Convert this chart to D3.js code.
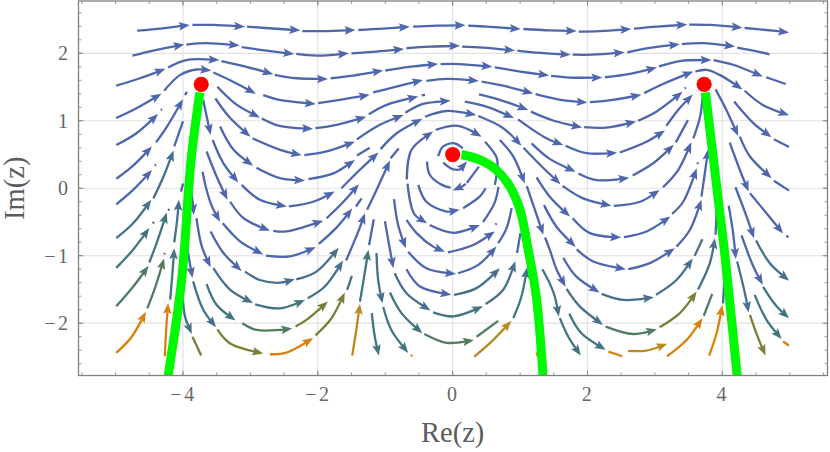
<!DOCTYPE html>
<html>
<head>
<meta charset="utf-8">
<script src="https://cdn.jsdelivr.net/npm/d3@7"></script>
<style>
  html, body { margin: 0; padding: 0; background: #fff; }
  text { font-family: "Liberation Serif", serif; fill: #666; }
</style>
</head>
<body>
<svg id="chart" width="830" height="452"></svg>
<script>
// stream pieces as [Re, Im], last point of an arrow piece is its tip
var blueArrows = [
  // top row
  [[-4.68,2.335],[-4.3,2.37],[-3.9,2.42]], [[-3.86,2.42],[-3.55,2.42],[-3.08,2.395]], [[-3.05,2.395],[-2.56,2.36],[-2.26,2.34]],
  [[-2.23,2.33],[-1.92,2.33],[-1.44,2.345]], [[-1.4,2.345],[-1.03,2.365],[-0.635,2.395]], [[-0.585,2.395],[-0.24,2.41],[0.19,2.415]],
  [[0.23,2.41],[0.5,2.395],[1.01,2.36]], [[1.05,2.36],[1.44,2.34],[1.84,2.33]], [[1.87,2.32],[2.18,2.33],[2.65,2.36]],
  [[2.69,2.365],[3.03,2.395],[3.48,2.425]], [[3.51,2.425],[3.82,2.42],[4.3,2.38]], [[4.33,2.375],[4.65,2.345],[4.99,2.31]],
  // second row
  [[-4.75,1.965],[-4.39,2.05],[-3.98,2.13]], [[-3.95,2.13],[-3.65,2.15],[-3.16,2.115]], [[-3.13,2.09],[-2.76,2.04],[-2.35,1.99]],
  [[-2.32,1.99],[-2.02,1.965],[-1.54,2.0]], [[-1.5,2.0],[-1.13,2.025],[-0.72,2.065]], [[-0.685,2.075],[-0.34,2.1],[0.11,2.11]],
  [[0.14,2.1],[0.45,2.085],[0.925,2.04]], [[0.96,2.04],[1.245,2.01],[1.75,1.98]], [[1.78,1.98],[2.08,1.98],[2.55,2.015]],
  [[2.59,2.015],[2.92,2.08],[3.37,2.135]], [[3.4,2.135],[3.72,2.15],[4.19,2.1]],
  // third row
  [[-4.99,1.52],[-4.64,1.63],[-4.26,1.77]], [[-4.22,1.79],[-3.95,1.9],[-3.46,1.9]], [[-3.43,1.885],[-3.06,1.8],[-2.66,1.69]],
  [[-2.64,1.68],[-2.32,1.63],[-1.85,1.62]], [[-1.81,1.63],[-1.48,1.67],[-1.03,1.745]], [[-1.0,1.745],[-0.64,1.8],[-0.215,1.84]],
  [[-0.18,1.84],[0.1,1.84],[0.59,1.8]], [[0.625,1.79],[1.0,1.73],[1.43,1.67]], [[1.46,1.665],[1.74,1.64],[2.22,1.64]],
  [[2.26,1.645],[2.63,1.695],[3.03,1.79]], [[3.06,1.805],[3.37,1.885],[3.84,1.9]], [[3.87,1.9],[4.16,1.83],[4.6,1.655]],
  // row over the saddles
  [[-4.99,1.04],[-4.69,1.185],[-4.32,1.4]], [[-4.28,1.445],[-4.04,1.68],[-3.8,1.76],[-3.58,1.745]], [[-3.55,1.715],[-3.3,1.6],[-2.92,1.4]],
  [[-2.81,1.38],[-2.57,1.31],[-2.03,1.25]], [[-1.995,1.26],[-1.675,1.31],[-1.23,1.385]], [[-1.18,1.42],[-0.88,1.495],[-0.44,1.605]],
  [[-0.39,1.59],[-0.09,1.62],[0.39,1.59]], [[0.43,1.58],[0.75,1.52],[1.195,1.405]], [[1.23,1.395],[1.6,1.31],[2.0,1.27]],
  [[2.035,1.275],[2.38,1.31],[2.8,1.385]], [[2.84,1.41],[3.12,1.545],[3.57,1.73]], [[3.6,1.73],[3.77,1.755],[3.96,1.68],[4.3,1.465]],
  [[4.33,1.445],[4.6,1.235],[4.99,1.08]],
  // next rows
  [[-4.99,0.64],[-4.69,0.815],[-4.37,1.1]], [[-3.49,1.505],[-3.2,1.235],[-2.86,1.05]], [[-2.83,1.035],[-2.57,0.925],[-2.07,0.88]],
  [[-2.035,0.89],[-1.72,0.94],[-1.28,1.06]], [[-1.245,1.095],[-0.98,1.235],[-0.51,1.36]], [[0.39,1.39],[0.7,1.31],[1.12,1.16]],
  [[1.16,1.135],[1.5,1.0],[1.92,0.9]], [[1.95,0.905],[2.28,0.9],[2.72,0.99]], [[2.75,1.0],[3.02,1.135],[3.41,1.43]],
  [[-3.52,1.33],[-3.3,1.04],[-3.0,0.765]], [[-2.97,0.74],[-2.56,0.57],[-2.24,0.49]], [[-2.2,0.49],[-1.87,0.545],[-1.45,0.69]],
  [[-1.42,0.725],[-1.08,0.94],[-0.73,1.085]], [[-0.7,1.12],[-0.44,1.25],[-0.03,1.295]], [[0.18,1.285],[0.5,1.21],[0.91,1.04]],
  [[0.97,1.02],[1.39,0.74],[1.64,0.64]], [[1.675,0.63],[1.985,0.52],[2.44,0.525]], [[2.48,0.53],[2.875,0.69],[3.15,0.855]],
  [[3.17,0.925],[3.345,1.16],[3.56,1.39]],
  [[-4.99,0.14],[-4.74,0.335],[-4.46,0.62]], [[-4.4,0.68],[-4.24,0.91],[-4.0,1.32]],
  [[-4.99,-0.24],[-4.74,-0.025],[-4.46,0.27]],
  [[-3.45,0.915],[-3.25,0.57],[-2.96,0.335]], [[-2.91,0.305],[-2.56,0.15],[-2.19,0.115]], [[-2.14,0.135],[-1.77,0.22],[-1.45,0.42]],
  [[-3.7,1.31],[-3.65,1.07],[-3.59,0.79]], [[-3.56,0.715],[-3.4,0.37],[-3.18,0.085]], [[-3.13,0.05],[-2.86,-0.17],[-2.46,-0.27]],
  [[-2.43,-0.27],[-2.07,-0.2],[-1.75,-0.05]], [[-1.65,0],[-1.38,0.27],[-1.1,0.53]], [[-1.07,0.58],[-0.83,0.815],[-0.45,1.03]],
  [[-0.41,1.06],[-0.09,1.145],[0.35,1.085]], [[0.38,1.07],[0.75,0.89],[1.02,0.63]], [[1.05,0.6],[1.345,0.3],[1.6,0.06]],
  [[1.63,0.035],[1.935,-0.15],[2.355,-0.26]], [[2.39,-0.26],[2.78,-0.2],[3.07,-0.025]], [[3.12,0.015],[3.345,0.27],[3.54,0.68]],
  [[-3.65,0.545],[-3.5,0.17],[-3.34,-0.17]], [[-3.3,-0.2],[-3.1,-0.445],[-2.71,-0.63]], [[-2.66,-0.63],[-2.465,-0.64],[-1.92,-0.48]],
  [[-1.87,-0.445],[-1.62,-0.2],[-1.39,0.06]], [[-1.27,-0.32],[-1.13,-0.025],[-0.93,0.41]],
  [[-3.71,0.245],[-3.65,-0.025],[-3.57,-0.27],[-3.45,-0.495]], [[-3.41,-0.52],[-3.15,-0.79],[-2.81,-0.98]], [[-2.77,-1.0],[-2.415,-1.01],[-2.03,-0.875]],
  [[-1.985,-0.825],[-1.72,-0.58],[-1.49,-0.3]],
  [[-3.88,-0.05],[-3.86,-0.17],[-3.84,-0.395]], [[-3.8,-0.445],[-3.72,-0.865],[-3.59,-1.17]], [[-3.59,-0.64],[-3.4,-0.96],[-3.13,-1.225]],
  [[-3.94,-0.865],[-3.9,-1.1],[-3.86,-1.33]],
  [[-1.005,-0.49],[-0.955,-0.77],[-0.88,-1.185]], [[-1.58,-1.07],[-1.38,-0.59],[-1.3,-0.37]],
  // centre swirl
  [[-0.14,0.38],[0.01,0.28],[0.155,0.3],[0.215,0.395]], [[0.195,0.065],[0.1,0],[0,-0.035]],
  [[-0.68,0.13],[-0.61,0.57],[-0.29,0.84]], [[-0.25,0.865],[0.08,0.925],[0.43,0.765]],
  [[-0.51,0.05],[-0.39,-0.2],[-0.09,-0.345],[0.105,-0.32]], [[-0.67,0.07],[-0.625,-0.22],[-0.56,-0.395],[-0.38,-0.52]],
  [[-0.34,-0.545],[0.01,-0.66],[0.405,-0.545]], [[-0.685,-0.47],[-0.535,-0.665],[-0.29,-0.865],[-0.115,-0.94]],
  [[-0.07,-0.95],[0.305,-0.84],[0.625,-0.64]], [[-0.87,-0.16],[-0.81,-0.54],[-0.695,-0.89]], [[-0.66,-0.94],[-0.39,-1.185],[0.05,-1.27]],
  [[0.08,-1.26],[0.38,-1.135],[0.65,-0.865]], [[-0.685,-1.2],[-0.485,-1.455],[-0.02,-1.58]],
  // right of the centre
  [[0.7,0.715],[0.9,0.47],[1.07,0.07]], [[1.1,0.03],[1.22,-0.32],[1.345,-0.69]], [[1.37,-0.73],[1.44,-0.91],[1.54,-1.2],[1.675,-1.46]],
  [[1.17,0.665],[1.44,0.435],[1.825,0.245]], [[1.865,0.22],[2.135,0.12],[2.62,0.155]], [[2.67,0.19],[2.975,0.37],[3.28,0.645]],
  [[1.245,0.16],[1.44,-0.125],[1.74,-0.42]], [[1.78,-0.445],[2.035,-0.665],[2.5,-0.73]], [[2.54,-0.725],[2.875,-0.64],[3.23,-0.42]],
  [[3.255,-0.38],[3.42,-0.2],[3.62,0.295]], [[1.355,-0.25],[1.54,-0.57],[1.825,-0.87]], [[1.84,-0.905],[2.085,-1.085],[2.57,-1.2]],
  [[2.605,-1.2],[2.925,-1.11],[3.295,-0.89]], [[3.32,-0.865],[3.52,-0.615],[3.69,-0.17]], [[3.69,-0.125],[3.74,0.22],[3.79,0.58]],
  [[3.9,1.465],[4.06,1.16],[4.235,0.775]], [[4.26,0.765],[4.41,0.47],[4.73,0.15]], [[4.175,1.285],[4.46,0.965],[4.73,0.755]],
  [[4.11,0.675],[4.26,0.27],[4.39,-0.05]], [[4.41,-0.075],[4.655,-0.37],[4.9,-0.67]], [[4.195,0.015],[4.36,-0.42],[4.47,-0.74]],
  [[4.095,-0.26],[4.16,-0.665],[4.2,-1.05]], [[4.285,-0.7],[4.46,-1.16],[4.6,-1.43]], [[1.64,-1.03],[1.835,-1.31],[2.18,-1.545]]
];
var blueTails = [
  [[4.22,2.085],[4.46,2.04],[4.7,1.985]], [[4.65,1.645],[4.94,1.545]], [[-4.33,1.16],[-4.31,1.17]], [[-0.46,1.375],[-0.41,1.385]],
  [[3.44,1.48],[3.46,1.49]], [[-3.97,1.38],[-3.94,1.43]], [[-4.42,0.335],[-4.4,0.35]], [[-4.13,0.62],[-4.0,0.99]],
  [[-1.42,0.485],[-1.23,0.6]], [[-0.92,0.445],[-0.8,0.59]], [[-1.435,-0.27],[-1.35,-0.15]], [[-1.24,-0.84],[-1.17,-0.46]],
  [[3.57,0.74],[3.67,1.06],[3.71,1.38]], [[3.31,0.68],[3.49,1.01]], [[3.63,0.36],[3.64,0.38]],
  [[4.765,0.11],[4.99,-0.035]], [[4.765,0.725],[4.99,0.61]], [[4.95,-0.705],[4.98,-0.725]],
  [[-0.215,0.475],[-0.14,0.62],[0.03,0.665],[0.15,0.59]], [[-0.38,0.395],[-0.34,0.2],[-0.16,0.05],[-0.03,0.01]], [[0.39,0.32],[0.21,0.08]],
  [[0.155,-0.295],[0.4,-0.125],[0.49,0]], [[0.48,0.69],[0.65,0.46],[0.665,0.295],[0.625,0.05]], [[0.45,-0.5],[0.62,-0.22],[0.68,0.02]],
  [[0.64,-0.54],[0.645,-0.52]], [[0.675,-0.815],[0.8,-0.59],[0.875,-0.295]], [[0.955,-0.96],[1.005,-0.665]], [[-4.03,-0.05],[-4.0,0.07]]
];
var slateArrows = [
  [[-4.99,-0.74],[-4.74,-0.52],[-4.47,-0.17]], [[-4.44,-0.15],[-4.29,0.17],[-4.14,0.56]], [[-4.13,-0.8],[-4.09,-0.5],[-4.06,-0.17]],
  [[-3.55,-1.185],[-3.3,-1.505],[-2.96,-1.7]], [[-3.08,-1.235],[-2.86,-1.36],[-2.56,-1.4],[-2.34,-1.35]], [[-2.32,-1.35],[-2.02,-1.235],[-1.69,-0.88]],
  [[-2.15,-1.63],[-1.9,-1.46],[-1.625,-1.07]], [[-3.85,-1.38],[-3.7,-1.8],[-3.51,-2.06]],
  [[-0.86,-1.26],[-0.685,-1.555],[-0.33,-1.81]], [[0.02,-1.58],[0.355,-1.48],[0.7,-1.185]], [[0.49,-1.715],[0.75,-1.505],[0.93,-1.08]],
  [[1.69,-1.49],[1.885,-1.75],[2.23,-2.025]], [[2.21,-1.565],[2.53,-1.655],[2.985,-1.615]], [[3.015,-1.58],[3.32,-1.36],[3.56,-1.04]],
  [[4.5,-0.775],[4.705,-1.11],[4.99,-1.37]], [[4.22,-1.085],[4.335,-1.555],[4.39,-1.84]], [[3.64,-1.5],[3.815,-1.11],[3.89,-0.74]],
  [[-1.13,-0.96],[-1.105,-1.36],[-1.04,-1.705]], [[1.33,-1.2],[1.44,-1.41],[1.515,-1.605],[1.575,-1.9]]
];
var slateTails = [
  [[3.9,-0.69],[3.915,-0.32]], [[4.01,-1.705],[4.03,-1.41]], [[3.59,-1.0],[3.705,-0.755]], [[-4.45,-0.52],[-4.43,-0.5]], [[-4.22,-0.33],[-4.2,-0.31]],
  [[-1.565,-1.505],[-1.495,-1.3]]
];
var tealArrows = [
  [[-4.99,-1.18],[-4.74,-0.91],[-4.5,-0.59]], [[-4.5,-1.1],[-4.39,-0.81],[-4.24,-0.36]], [[-4.19,-1.65],[-4.16,-1.3],[-4.13,-0.89]],
  [[-4.0,-1.655],[-3.97,-1.9],[-3.87,-2.16]], [[-3.65,-1.42],[-3.5,-1.73],[-3.22,-1.96]], [[-2.93,-1.72],[-2.56,-1.78],[-2.19,-1.655]],
  [[-1.375,-1.68],[-1.305,-1.26],[-1.25,-0.91]], [[-0.93,-1.545],[-0.76,-1.85],[-0.45,-2.15]], [[-1.2,-1.85],[-1.155,-2.2],[-1.095,-2.48]],
  [[-1.03,-1.76],[-0.91,-2.1],[-0.66,-2.44]], [[-0.29,-1.84],[0.01,-1.9],[0.45,-1.75]], [[0.9,-1.925],[1.02,-1.605],[1.105,-1.17]],
  [[1.59,-1.925],[1.715,-2.2],[1.9,-2.48]], [[1.73,-1.86],[1.91,-2.15],[2.27,-2.395]], [[4.48,-1.58],[4.655,-1.95],[4.88,-2.235]],
  [[4.605,-1.46],[4.805,-1.75],[4.99,-1.925]]
];
var tealTails = [];
var greenArrows = [
  [[-4.99,-1.75],[-4.74,-1.46],[-4.51,-1.15]], [[-4.53,-1.78],[-4.41,-1.46],[-4.28,-1.04]], [[-3.12,-2.0],[-2.91,-2.1],[-2.56,-2.1],[-2.38,-2.08]],
  [[-0.42,-2.16],[-0.09,-2.29],[0.315,-2.25]], [[2.27,-2.05],[2.68,-2.16],[3.03,-2.09]]
];
var greenTails = [
  [[-4.28,-0.98],[-4.27,-0.96]], [[0.355,-2.2],[0.675,-1.965]], [[3.725,-1.89],[3.85,-1.565]]
];
var oliveArrows = [
  [[-3.49,-2.09],[-3.3,-2.3],[-2.81,-2.45]], [[-2.035,-2.18],[-1.8,-1.93],[-1.6,-1.545]], [[-2.33,-2.05],[-2.17,-1.95],[-1.85,-1.68]],
  [[3.07,-2.06],[3.37,-1.85],[3.62,-1.53]], [[4.41,-1.875],[4.505,-2.15],[4.64,-2.48]]
];
var oliveTails = [[[-3.86,-2.2],[-3.73,-2.48]]];
var goldArrows = [
  [[-1.49,-2.48],[-1.43,-2.1],[-1.375,-1.71]], [[0.32,-2.495],[0.6,-2.25],[0.87,-1.965]], [[2.6,-2.41],[2.875,-2.405],[3.185,-2.305]]
];
var goldTails = [];
var orangeArrows = [
  [[-4.99,-2.44],[-4.76,-2.2],[-4.55,-1.83]], [[-4.27,-2.49],[-4.25,-2.1],[-4.22,-1.7]], [[-2.71,-2.46],[-2.465,-2.435],[-2.07,-2.22]],
  [[3.18,-2.49],[3.47,-2.25],[3.705,-1.925]], [[3.805,-2.48],[3.915,-2.15],[4.0,-1.73]]
];
var orangeTails = [
  [[-0.62,-2.47],[-0.6,-2.49]], [[1.245,-2.43],[1.26,-2.49]], [[2.31,-2.42],[2.515,-2.49]], [[4.9,-2.27],[4.99,-2.33]]
];

var leftContour = [[-3.75,1.42],[-3.88,0.42],[-4.02,-1.36],[-4.22,-2.775]];
var centreContour = [[0.13,0.5],[0.405,0.42],[0.65,0.27],[0.85,0.025],[1.0,-0.32],[1.12,-0.91],[1.24,-1.6],[1.34,-2.775]];
var rightContour = [[3.75,1.42],[3.94,-0.17],[4.04,-1.01],[4.22,-2.775]];
var saddlePoints = [[-3.73,1.54],[0,0.5],[3.73,1.54]];

var xMajor = [-4,-2,0,2,4];
var yMajor = [-2,-1,0,1,2];
var xMinor = d3.range(-5.5,5.51,0.5);
var yMinor = d3.range(-2.6,2.61,0.2);

var margin = {left: 78.5, right: 2.5, top: 1, bottom: 76.5};
var width = 830 - margin.left - margin.right;
var height = 452 - margin.top - margin.bottom;

// We define the scales
var x = d3.scaleLinear().domain([-5.55,5.56]).range([0,width]);
var y = d3.scaleLinear().domain([-2.775,2.775]).range([height,0]);

var svg = d3.select("#chart").append("g")
    .attr("transform","translate(" + margin.left + "," + margin.top + ")");

// gridlines
svg.append("g").selectAll("line").data(xMajor).join("line")
    .attr("x1",d => x(d)).attr("x2",d => x(d)).attr("y1",0).attr("y2",height)
    .attr("stroke","#e2e2e2").attr("stroke-width",1.2);
svg.append("g").selectAll("line").data(yMajor).join("line")
    .attr("x1",0).attr("x2",width).attr("y1",d => y(d)).attr("y2",d => y(d))
    .attr("stroke","#e2e2e2").attr("stroke-width",1.2);

var line = d3.line().x(d => x(d[0])).y(d => y(d[1])).curve(d3.curveCatmullRom.alpha(0.5));
var streams = svg.append("g").attr("fill","none").attr("stroke-width",2.3);

var drawTails = function(pieces,color) {
    pieces.forEach(function(p) {
        streams.append("path").attr("d",line(p)).attr("stroke",color);
    });
};

var headLength = 11, headHalf = 4.3, headNotch = 2.2;
var drawArrows = function(pieces,color) {
    pieces.forEach(function(p) {
        var path = streams.append("path").attr("d",line(p)).attr("stroke",color);
        var node = path.node();
        var total = node.getTotalLength();
        var tip = node.getPointAtLength(total);
        var base = node.getPointAtLength(Math.max(0,total - headLength));
        var a = Math.atan2(tip.y - base.y,tip.x - base.x);
        var cos = Math.cos(a), sin = Math.sin(a);
        var bx = tip.x - headLength*cos, by = tip.y - headLength*sin;
        path.attr("stroke-dasharray",(total - headLength + headNotch + 1) + " 2000");
        streams.append("polygon")
            .attr("points",[
                [tip.x,tip.y],
                [bx - headHalf*sin,by + headHalf*cos],
                [bx + headNotch*cos,by + headNotch*sin],
                [bx + headHalf*sin,by - headHalf*cos]
            ].join(" "))
            .attr("fill",color).attr("stroke","none");
    });
};

var blue = "#4e66ab", slate = "#46708c", teal = "#41757f", green = "#527c62", olive = "#7c7f3a", gold = "#b78a22", orange = "#da800c";
drawArrows(blueArrows,blue); drawTails(blueTails,blue);
drawArrows(slateArrows,slate); drawTails(slateTails,slate);
drawArrows(tealArrows,teal); drawTails(tealTails,teal);
drawArrows(greenArrows,green); drawTails(greenTails,green);
drawArrows(oliveArrows,olive); drawTails(oliveTails,olive);
drawArrows(goldArrows,gold); drawTails(goldTails,gold);
drawArrows(orangeArrows,orange); drawTails(orangeTails,orange);

// thick contours and the points
var contourLine = d3.line().x(d => x(d[0])).y(d => y(d[1])).curve(d3.curveCatmullRom.alpha(0.5));
[leftContour,centreContour,rightContour].forEach(function(c) {
    svg.append("path").attr("d",contourLine(c)).attr("fill","none").attr("stroke","#00f800").attr("stroke-width",9);
});
svg.append("g").selectAll("circle").data(saddlePoints).join("circle")
    .attr("cx",d => x(d[0])).attr("cy",d => y(d[1])).attr("r",7.6).attr("fill","#ff0000");

// frame ticks
var frame = svg.append("g").attr("stroke","#808080").attr("fill","none");
var tickLines = function(values,size,horizontal) {
    values.forEach(function(v) {
        if (horizontal) {
            frame.append("line").attr("x1",x(v)).attr("x2",x(v)).attr("y1",height).attr("y2",height - size).attr("stroke-width",0.8);
            frame.append("line").attr("x1",x(v)).attr("x2",x(v)).attr("y1",0).attr("y2",size).attr("stroke-width",0.8);
        } else {
            frame.append("line").attr("y1",y(v)).attr("y2",y(v)).attr("x1",0).attr("x2",size).attr("stroke-width",0.8);
            frame.append("line").attr("y1",y(v)).attr("y2",y(v)).attr("x1",width).attr("x2",width - size).attr("stroke-width",0.8);
        }
    });
};
tickLines(xMinor,3,true);
tickLines(yMinor,3,false);
tickLines(xMajor,5,true);
tickLines(yMajor,5,false);
frame.append("rect").attr("width",width).attr("height",height).attr("stroke-width",1.3);

// tick labels go through the axes, with their lines removed
var xAxis = svg.append("g").attr("transform","translate(0," + height + ")")
    .call(d3.axisBottom(x).tickValues(xMajor).tickSize(0).tickPadding(11).tickFormat(d3.format("d")));
var yAxis = svg.append("g")
    .call(d3.axisLeft(y).tickValues(yMajor).tickSize(0).tickPadding(8).tickFormat(d3.format("d")));
xAxis.select(".domain").remove();
yAxis.select(".domain").remove();
xAxis.selectAll("text").attr("font-size",20).attr("letter-spacing",2.5);
yAxis.selectAll("text").attr("font-size",20).attr("letter-spacing",2.5);

svg.append("text").attr("x",x(0)).attr("y",441).attr("text-anchor","middle")
    .attr("font-size",28.5).style("fill","#5c5c5c").text("Re(z)");
svg.append("text").attr("transform","translate(-55," + y(0) + ") rotate(-90)").attr("text-anchor","middle")
    .attr("font-size",28.5).style("fill","#5c5c5c").text("Im(z)");
</script>
</body>
</html>
